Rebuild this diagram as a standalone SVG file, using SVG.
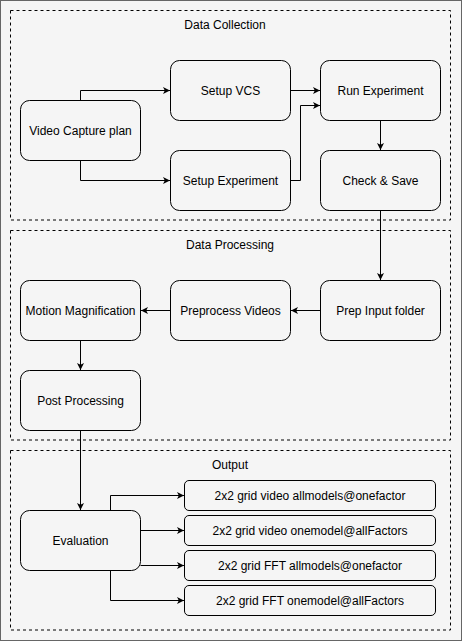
<svg xmlns="http://www.w3.org/2000/svg" width="462" height="641" viewBox="0 0 462 641">
<style>
.bg{fill:#f5f5f5;stroke:#666666;stroke-width:1}
.grp{fill:none;stroke:#000;stroke-width:1;stroke-dasharray:3 3}
.box{fill:#f5f5f5;stroke:#000;stroke-width:1}
.t{font-family:"Liberation Sans",Arial,sans-serif;font-size:12px;fill:#000;text-anchor:middle;dominant-baseline:central}
.e{fill:none;stroke:#000;stroke-width:1;marker-end:url(#arr)}
</style>
<defs>
<marker id="arr" markerWidth="10" markerHeight="10" refX="7" refY="3.5" orient="auto" markerUnits="userSpaceOnUse">
<path d="M0,0 L7,3.5 L0,7 L1.8,3.5 Z" fill="#000"/>
</marker>
</defs>
<rect class="bg" x="0.5" y="0.5" width="461" height="640"/>
<g id="group-data-collection">
<rect class="grp" x="10.5" y="10.5" width="440" height="209.5"/>
<text class="t" x="225" y="24.5">Data Collection</text>
</g>
<g id="group-data-processing">
<rect class="grp" x="10.5" y="230.5" width="440" height="209.5"/>
<text class="t" x="230" y="244.5">Data Processing</text>
</g>
<g id="group-output">
<rect class="grp" x="10.5" y="450.5" width="440" height="179.5"/>
<text class="t" x="230" y="464.5">Output</text>
</g>
<g id="connectors">
<path class="e" d="M80.5,100.5 V90.5 H170"/>
<path class="e" d="M80.5,160.5 V180.5 H170"/>
<path class="e" d="M290.5,90.5 H320"/>
<path class="e" d="M290.5,180.5 H300.5 V105.5 H320"/>
<path class="e" d="M380.5,120.5 V150"/>
<path class="e" d="M380.5,210.5 V280"/>
<path class="e" d="M320.5,310.5 H291"/>
<path class="e" d="M170.5,310.5 H141"/>
<path class="e" d="M80.5,340.5 V370"/>
<path class="e" d="M80.5,430.5 V510"/>
<path class="e" d="M110.5,510.5 V495.5 H184"/>
<path class="e" d="M140.5,530.5 H184"/>
<path class="e" d="M140.5,565.5 H184"/>
<path class="e" d="M110.5,570.5 V600.5 H184"/>
</g>
<g id="video-capture-plan"><rect class="box" x="20.5" y="100.5" width="120" height="60" rx="9"/><text class="t" x="80.5" y="130.5">Video Capture plan</text></g>
<g id="setup-vcs"><rect class="box" x="170.5" y="60.5" width="120" height="60" rx="9"/><text class="t" x="230.5" y="90.5">Setup VCS</text></g>
<g id="setup-experiment"><rect class="box" x="170.5" y="150.5" width="120" height="60" rx="9"/><text class="t" x="230.5" y="180.5">Setup Experiment</text></g>
<g id="run-experiment"><rect class="box" x="320.5" y="60.5" width="120" height="60" rx="9"/><text class="t" x="380.5" y="90.5">Run Experiment</text></g>
<g id="check-save"><rect class="box" x="320.5" y="150.5" width="120" height="60" rx="9"/><text class="t" x="380.5" y="180.5">Check &amp; Save</text></g>
<g id="prep-input-folder"><rect class="box" x="320.5" y="280.5" width="120" height="60" rx="9"/><text class="t" x="380.5" y="310.5">Prep Input folder</text></g>
<g id="preprocess-videos"><rect class="box" x="170.5" y="280.5" width="120" height="60" rx="9"/><text class="t" x="230.5" y="310.5">Preprocess Videos</text></g>
<g id="motion-magnification"><rect class="box" x="20.5" y="280.5" width="120" height="60" rx="9"/><text class="t" x="80.5" y="310.5">Motion Magnification</text></g>
<g id="post-processing"><rect class="box" x="20.5" y="370.5" width="120" height="60" rx="9"/><text class="t" x="80.5" y="400.5">Post Processing</text></g>
<g id="evaluation"><rect class="box" x="20.5" y="510.5" width="120" height="60" rx="9"/><text class="t" x="80.5" y="540.5">Evaluation</text></g>
<g id="out-1"><rect class="box" x="184.5" y="480.5" width="251" height="30" rx="4.5"/><text class="t" x="310" y="495.5">2x2 grid video allmodels@onefactor</text></g>
<g id="out-2"><rect class="box" x="184.5" y="515.5" width="251" height="30" rx="4.5"/><text class="t" x="310" y="530.5">2x2 grid video onemodel@allFactors</text></g>
<g id="out-3"><rect class="box" x="184.5" y="550.5" width="251" height="30" rx="4.5"/><text class="t" x="310" y="565.5">2x2 grid FFT allmodels@onefactor</text></g>
<g id="out-4"><rect class="box" x="184.5" y="585.5" width="251" height="30" rx="4.5"/><text class="t" x="310" y="600.5">2x2 grid FFT onemodel@allFactors</text></g>
</svg>
